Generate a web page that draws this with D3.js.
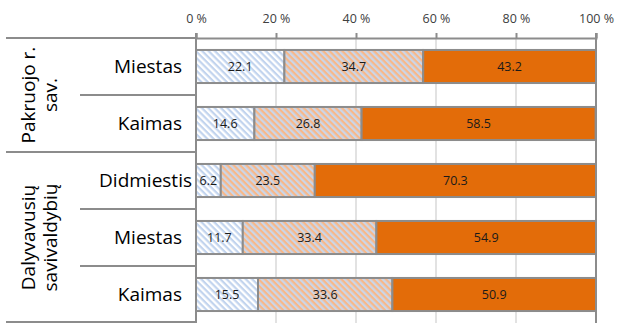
<!DOCTYPE html>
<html><head><meta charset="utf-8">
<script src="https://cdn.jsdelivr.net/npm/d3@7"></script>
<style>body{margin:0;background:#fff;} svg{display:block;font-family:"Open Sans",sans-serif;}</style>
</head><body>
<svg id="c" width="617" height="323"></svg>
<script>
const groups = [["Pakruojo r.", "sav."], ["Dalyvavusių", "savivaldybių"]];
const groupSizes = [2, 3];
const categories = ["Miestas", "Kaimas", "Didmiestis", "Miestas", "Kaimas"];
const series1 = [22.1, 14.6, 6.2, 11.7, 15.5];
const series2 = [34.7, 26.8, 23.5, 33.4, 33.6];
const series3 = [43.2, 58.5, 70.3, 54.9, 50.9];
const ticks = [0, 20, 40, 60, 80, 100];

const svg = d3.select("#c");
const pLeft = 196, pRight = 596, pTop = 38, pBottom = 323;
const x = d3.scaleLinear().domain([0, 100]).range([pLeft, pRight]);
const y = d3.scaleBand().domain(d3.range(categories.length)).range([pTop, pBottom]).paddingInner(0.42).paddingOuter(0.21);
const yFull = d3.scaleBand().domain(d3.range(categories.length)).range([pTop, pBottom]);

const defs = svg.append("defs");
function hatch(id, bg, fg) {
  const p = defs.append("pattern").attr("id", id).attr("patternUnits", "userSpaceOnUse")
    .attr("width", 4.5).attr("height", 4.5).attr("patternTransform", "rotate(45)");
  p.append("rect").attr("width", 4.5).attr("height", 4.5).attr("fill", bg);
  p.append("rect").attr("width", 4.5).attr("height", 2.2).attr("fill", fg);
}
hatch("h1", "#ffffff", "#c2d4ee");
hatch("h2", "#cbd6e8", "#f8b889");

// gridlines
svg.append("g").selectAll("line").data(ticks.filter(t => t > 0 && t < 100)).join("line")
  .attr("x1", d => x(d)).attr("x2", d => x(d)).attr("y1", pTop).attr("y2", pBottom)
  .attr("stroke", "#d9d9d9").attr("stroke-width", 1.5);

// top axis
const ax = svg.append("g").attr("transform", `translate(0,${pTop})`)
  .call(d3.axisTop(x).tickValues(ticks).tickSize(5).tickPadding(10).tickFormat(d => d + " %"));
ax.select(".domain").attr("stroke", "#8c8c8c").attr("stroke-width", 2);
ax.selectAll(".tick line").attr("stroke", "#8c8c8c").attr("stroke-width", 2);
ax.selectAll(".tick text").attr("font-size", 12.5).attr("fill", "#404040").attr("font-family", "'Open Sans', sans-serif");

// right border at 100%
svg.append("line").attr("x1", x(100)).attr("x2", x(100)).attr("y1", pTop - 5).attr("y2", pBottom)
  .attr("stroke", "#8c8c8c").attr("stroke-width", 2);

// stacked bars
const data = categories.map((c, i) => ({i, v: [series1[i], series2[i], series3[i]]}));
const fills = ["url(#h1)", "url(#h2)", "#e36c09"];
const segs = [];
data.forEach(d => { let acc = 0; d.v.forEach((v, k) => { segs.push({i: d.i, k, x0: acc, x1: acc + v, v}); acc += v; }); });
svg.append("g").selectAll("rect").data(segs).join("rect")
  .attr("x", d => x(d.x0)).attr("width", d => x(d.x1) - x(d.x0))
  .attr("y", d => y(d.i)).attr("height", y.bandwidth())
  .attr("fill", d => fills[d.k]).attr("stroke", "#8c8c8c").attr("stroke-width", 2);
svg.append("g").selectAll("text").data(segs).join("text")
  .attr("x", d => (x(d.x0) + x(d.x1)) / 2).attr("y", d => y(d.i) + y.bandwidth() / 2)
  .attr("dy", "0.35em").attr("text-anchor", "middle").attr("font-size", 12.5).attr("fill", "#1a1a1a")
  .text(d => d.v.toFixed(1));

// category axis
svg.append("line").attr("x1", pLeft).attr("x2", pLeft).attr("y1", pTop - 5).attr("y2", pBottom)
  .attr("stroke", "#8c8c8c").attr("stroke-width", 2);
svg.append("g").selectAll("text").data(categories).join("text")
  .attr("x", (d, i) => d.length > 8 ? 192 : 182).attr("y", (d, i) => yFull(i) + yFull.bandwidth() / 2).attr("dy", "0.35em")
  .attr("text-anchor", "end").attr("font-size", 19).attr("fill", "#000").text(d => d);

// separators
let start = 0;
const groupBounds = [];
groupSizes.forEach(n => { groupBounds.push([start, start + n]); start += n; });
const sepG = svg.append("g").attr("stroke", "#8c8c8c").attr("stroke-width", 2);
sepG.append("line").attr("x1", 6).attr("x2", pLeft).attr("y1", pTop).attr("y2", pTop);
groupBounds.forEach(([a, b], gi) => {
  const yb = b < categories.length ? yFull(b) : pBottom - 1;
  sepG.append("line").attr("x1", 6).attr("x2", pLeft).attr("y1", yb).attr("y2", yb);
  for (let j = a + 1; j < b; j++) {
    sepG.append("line").attr("x1", 80).attr("x2", pLeft).attr("y1", yFull(j)).attr("y2", yFull(j));
  }
  const yc = (yFull(a) + (b < categories.length ? yFull(b) : pBottom)) / 2;
  const t = svg.append("text").attr("transform", `translate(39,${yc}) rotate(-90)`)
    .attr("text-anchor", "middle").attr("font-size", 19).attr("fill", "#000");
  groups[gi].forEach((line, li) => {
    t.append("tspan").attr("x", 0).attr("y", (li - (groups[gi].length - 1) / 2) * 22).attr("dy", "0.35em").text(line);
  });
});
</script>
</body></html>
